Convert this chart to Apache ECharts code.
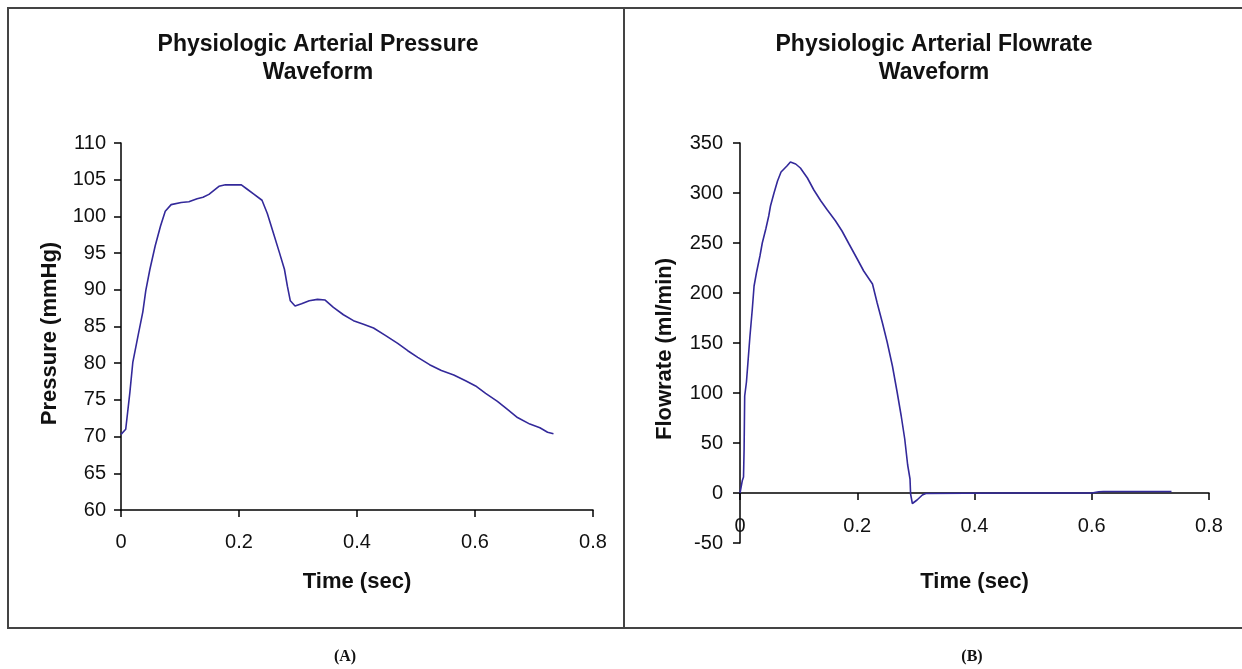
<!DOCTYPE html>
<html>
<head>
<meta charset="utf-8">
<title>Physiologic Arterial Waveforms</title>
<script src="https://cdn.jsdelivr.net/npm/echarts@6/dist/echarts.min.js"></script>
<style>
  html, body { margin: 0; padding: 0; background: #fff; }
  #chart { width: 1242px; height: 669px; }
</style>
</head>
<body>
<div id="chart"></div>
<script>
// (A) pressure waveform
var pressureTime = [0, 0.008, 0.015, 0.020, 0.029, 0.037, 0.042, 0.049, 0.058, 0.067, 0.075, 0.085,
  0.102, 0.115, 0.129, 0.139, 0.149, 0.166, 0.177, 0.204, 0.214, 0.224, 0.239, 0.248, 0.258,
  0.268, 0.277, 0.282, 0.287, 0.295, 0.306, 0.319, 0.333, 0.346, 0.360, 0.377, 0.394, 0.411,
  0.428, 0.448, 0.469, 0.486, 0.503, 0.523, 0.543, 0.564, 0.584, 0.601, 0.618, 0.638, 0.655,
  0.672, 0.693, 0.710, 0.723, 0.733];
var pressureValues = [70.3, 71.0, 76.0, 80.1, 83.8, 87.0, 89.9, 92.8, 96.0, 98.7, 100.7, 101.6,
  101.9, 102.0, 102.4, 102.6, 103.0, 104.1, 104.3, 104.3, 103.7, 103.1, 102.2, 100.4, 97.8,
  95.2, 92.8, 90.5, 88.5, 87.8, 88.1, 88.5, 88.7, 88.6, 87.6, 86.6, 85.8, 85.3,
  84.8, 83.8, 82.7, 81.7, 80.8, 79.8, 79.0, 78.4, 77.6, 76.9, 75.9, 74.8, 73.7,
  72.6, 71.7, 71.2, 70.6, 70.4];

// (B) flowrate waveform
var flowTime = [0, 0.004, 0.006, 0.007, 0.008, 0.011, 0.014, 0.017, 0.021, 0.024, 0.028, 0.034,
  0.038, 0.044, 0.049, 0.052, 0.058, 0.064, 0.070, 0.080, 0.086, 0.095, 0.103, 0.115, 0.126,
  0.138, 0.149, 0.163, 0.174, 0.186, 0.200, 0.211, 0.226, 0.234, 0.243, 0.251, 0.260, 0.268,
  0.275, 0.281, 0.286, 0.290, 0.291, 0.294, 0.302, 0.311, 0.317, 0.45, 0.60, 0.612, 0.62, 0.736];
var flowValues = [0, 12.6, 16, 44, 97, 111, 134, 157, 184, 207, 220, 237,
  250, 264, 277, 287, 300, 312, 321, 327, 331, 329, 325, 315, 303,
  292, 283, 272, 262, 249, 234, 222, 209, 190, 170, 151, 127, 101,
  77, 54, 28, 14, -1, -10.5, -7, -2, -0.5, 0, 0, 1.2, 1.5, 1.5];

var timeTicks = { min: 0, max: 0.8, interval: 0.2 };
var pressureTicks = { min: 60, max: 110, interval: 5 };
var flowTicks = { min: -50, max: 350, interval: 50 };

function zip(xs, ys) {
  var res = [];
  for (var i = 0; i < xs.length; i++) {
    res.push([xs[i], ys[i]]);
  }
  return res;
}

var font = 'Liberation Sans, Arial, sans-serif';
var lineColor = '#33299a';

function valueAxis(ticks, gridIndex, extra) {
  var axis = {
    type: 'value',
    gridIndex: gridIndex,
    min: ticks.min,
    max: ticks.max,
    interval: ticks.interval,
    splitLine: { show: false },
    axisLine: { show: true, onZero: true, lineStyle: { color: '#000', width: 1.5 } },
    axisTick: { show: true, inside: false, length: 7, lineStyle: { color: '#000', width: 1.5 } },
    axisLabel: { color: '#111', fontSize: 20, fontFamily: font, showMinLabel: true, showMaxLabel: true },
    nameLocation: 'middle',
    nameTextStyle: { color: '#111', fontSize: 22, fontWeight: 'bold', fontFamily: font },
  };
  for (var k in extra) {
    if (k === 'axisLabel' || k === 'nameTextStyle') {
      for (var j in extra[k]) axis[k][j] = extra[k][j];
    } else {
      axis[k] = extra[k];
    }
  }
  return axis;
}

var option = {
  backgroundColor: '#fff',
  animation: false,
  title: [
    {
      text: 'Physiologic Arterial Pressure\nWaveform',
      left: 318,
      top: 31,
      padding: 0,
      textAlign: 'center',
      textStyle: { fontSize: 23, fontWeight: 'bold', fontFamily: font, color: '#111', lineHeight: 28 },
    },
    {
      text: 'Physiologic Arterial Flowrate\nWaveform',
      left: 934,
      top: 31,
      padding: 0,
      textAlign: 'center',
      textStyle: { fontSize: 23, fontWeight: 'bold', fontFamily: font, color: '#111', lineHeight: 28 },
    },
  ],
  grid: [
    { left: 121, top: 143, width: 472, height: 367, containLabel: false },
    { left: 740, top: 143, width: 469, height: 400, containLabel: false },
  ],
  xAxis: [
    valueAxis(timeTicks, 0, { name: 'Time (sec)', nameGap: 61, axisLabel: { margin: 22 } }),
    // labels and name sit by the zero line, not the grid bottom
    valueAxis(timeTicks, 1, { name: 'Time (sec)', nameGap: 28, axisLabel: { margin: -27 } }),
  ],
  yAxis: [
    valueAxis(pressureTicks, 0, { name: 'Pressure (mmHg)', nameGap: 60, axisLabel: { margin: 15 }, nameTextStyle: { padding: [0, 14, 0, 0] } }),
    valueAxis(flowTicks, 1, { name: 'Flowrate (ml/min)', nameGap: 64, axisLabel: { margin: 17 }, nameTextStyle: { padding: [0, 12, 0, 0] } }),
  ],
  series: [
    {
      type: 'line',
      xAxisIndex: 0,
      yAxisIndex: 0,
      showSymbol: false,
      data: zip(pressureTime, pressureValues),
      lineStyle: { color: lineColor, width: 1.6 },
      itemStyle: { color: lineColor },
    },
    {
      type: 'line',
      xAxisIndex: 1,
      yAxisIndex: 1,
      showSymbol: false,
      data: zip(flowTime, flowValues),
      lineStyle: { color: lineColor, width: 1.6 },
      itemStyle: { color: lineColor },
    },
  ],
  graphic: [
    // panel frame
    { type: 'polyline', shape: { points: [[1242, 8], [8, 8], [8, 628], [1242, 628]] }, style: { stroke: '#444', lineWidth: 2, fill: null } },
    { type: 'line', shape: { x1: 624, y1: 8, x2: 624, y2: 628 }, style: { stroke: '#444', lineWidth: 2 } },
    { type: 'text', x: 345, y: 657, style: { text: '(A)', font: 'bold 16px "Liberation Serif", "Times New Roman", serif', fill: '#111', align: 'center', verticalAlign: 'middle' } },
    { type: 'text', x: 972, y: 657, style: { text: '(B)', font: 'bold 16px "Liberation Serif", "Times New Roman", serif', fill: '#111', align: 'center', verticalAlign: 'middle' } },
  ],
};

var chart = echarts.init(document.getElementById('chart'));
chart.setOption(option);
</script>
</body>
</html>
